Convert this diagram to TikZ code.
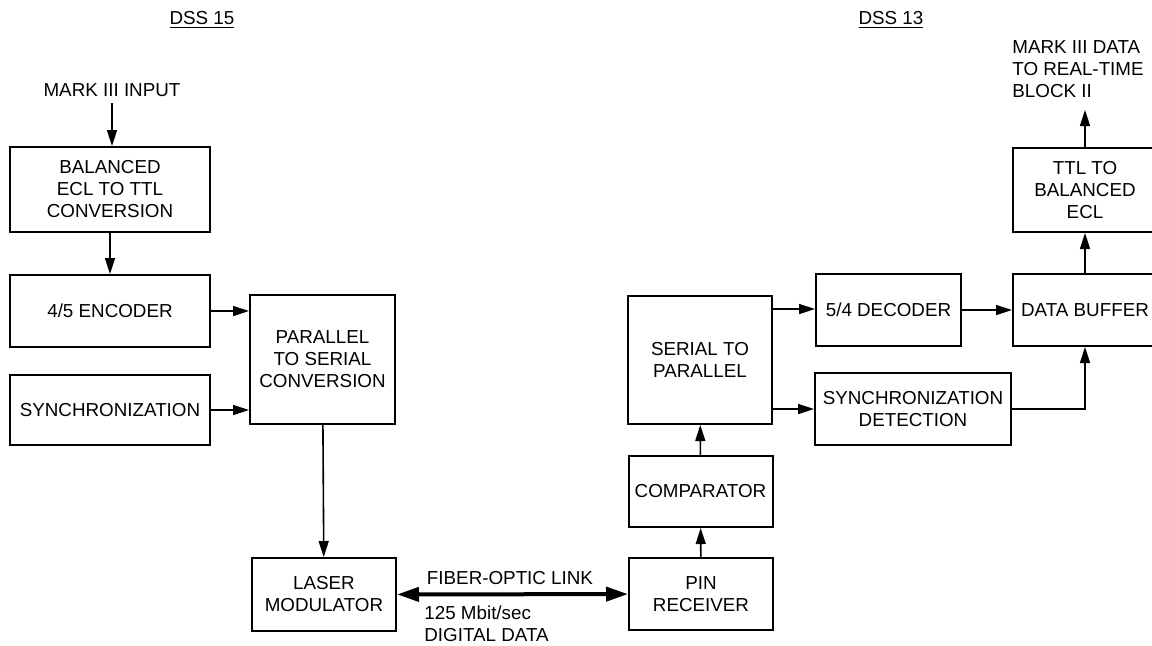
\documentclass[tikz,border=0pt]{standalone}
\usepackage{fontspec}
\setmainfont{Liberation Sans}
\usetikzlibrary{arrows.meta,calc}
\begin{document}
\begin{tikzpicture}[x=0.5pt,y=-0.5pt,
  font=\fontsize{9.4}{11}\selectfont,
  blk/.style={draw,line width=1pt,align=center,inner sep=0pt,minimum width=#1},
  conn/.style={line width=0.8pt,-{Triangle[length=8pt,width=5pt]}},
  fiber/.style={line width=2pt,{Triangle[length=11pt,width=7pt]}-{Triangle[length=11pt,width=7pt]}},
  lbl/.style={inner sep=0pt,align=left}]
\useasboundingbox (0,0) rectangle (1152,645);
% left side
\node[lbl] (dss15) at (202,20) {\underline{DSS 15}};
\node[lbl] (inp) at (112,90) {MARK III INPUT};
\node[blk=100pt, minimum height=42.5pt] (bal) at (110,189.5) {BALANCED\\ECL TO TTL\\CONVERSION};
\node[blk=100pt, minimum height=36pt] (enc) at (110,311) {4/5 ENCODER};
\node[blk=100pt, minimum height=35pt] (sync) at (110,410) {SYNCHRONIZATION};
\node[blk=72.5pt, minimum height=64.5pt] (p2s) at (322.5,359.5) {PARALLEL\\TO SERIAL\\CONVERSION};
\node[blk=72pt, minimum height=36.5pt] (laser) at (324,594.5) {LASER\\MODULATOR};
% right side
\node[lbl] (dss13) at (891,20) {\underline{DSS 13}};
\node[blk=72pt, minimum height=36pt] (pin) at (701,594) {PIN\\RECEIVER};
\node[blk=72pt, minimum height=35.5pt] (comp) at (700.5,491.5) {COMPARATOR};
\node[blk=72pt, minimum height=64pt] (s2p) at (700,360) {SERIAL TO\\PARALLEL};
\node[blk=72.5pt, minimum height=36pt] (dec) at (888.5,310) {5/4 DECODER};
\node[blk=98pt, minimum height=36pt] (sdet) at (913,409) {SYNCHRONIZATION\\DETECTION};
\node[blk=72pt, minimum height=36pt] (buf) at (1085,310) {DATA BUFFER};
\node[blk=72pt, minimum height=42pt] (ttl) at (1085,190) {TTL TO\\BALANCED\\ECL};
\node[lbl,anchor=north west] (out) at (1012,40) {MARK III DATA\\TO REAL-TIME\\BLOCK II};
% fiber labels
\node[lbl] (fol) at (510,578) {FIBER-OPTIC LINK};
\node[lbl,anchor=north west] (rate) at (424,605) {125 Mbit/sec\\DIGITAL DATA};
% connectors
\coordinate (inend) at (112,103);
\draw[conn] (inend) -- (inend |- bal.north);
\draw[conn] (bal) -- (enc);
\draw[conn] (enc.east) -- (p2s.west |- enc.east);
\draw[conn] (sync.east) -- (p2s.west |- sync.east);
\draw[conn] (p2s) -- (laser);
\draw[fiber] (laser) -- (pin);
\draw[conn] (pin) -- (comp);
\draw[conn] (comp) -- (s2p);
\coordinate (s2pa) at ($(s2p.east |- dec.west)+(0,-1)$);
\draw[conn] (s2pa) -- (s2pa -| dec.west);
\draw[conn] (s2p.east |- sdet.west) -- (sdet.west);
\draw[conn] (dec) -- (buf);
\draw[conn] (sdet.east) -| (buf.south);
\draw[conn] (buf) -- (ttl);
\coordinate (outend) at (1085,110);
\draw[conn] (ttl.north) -- (outend);
\end{tikzpicture}
\end{document}
